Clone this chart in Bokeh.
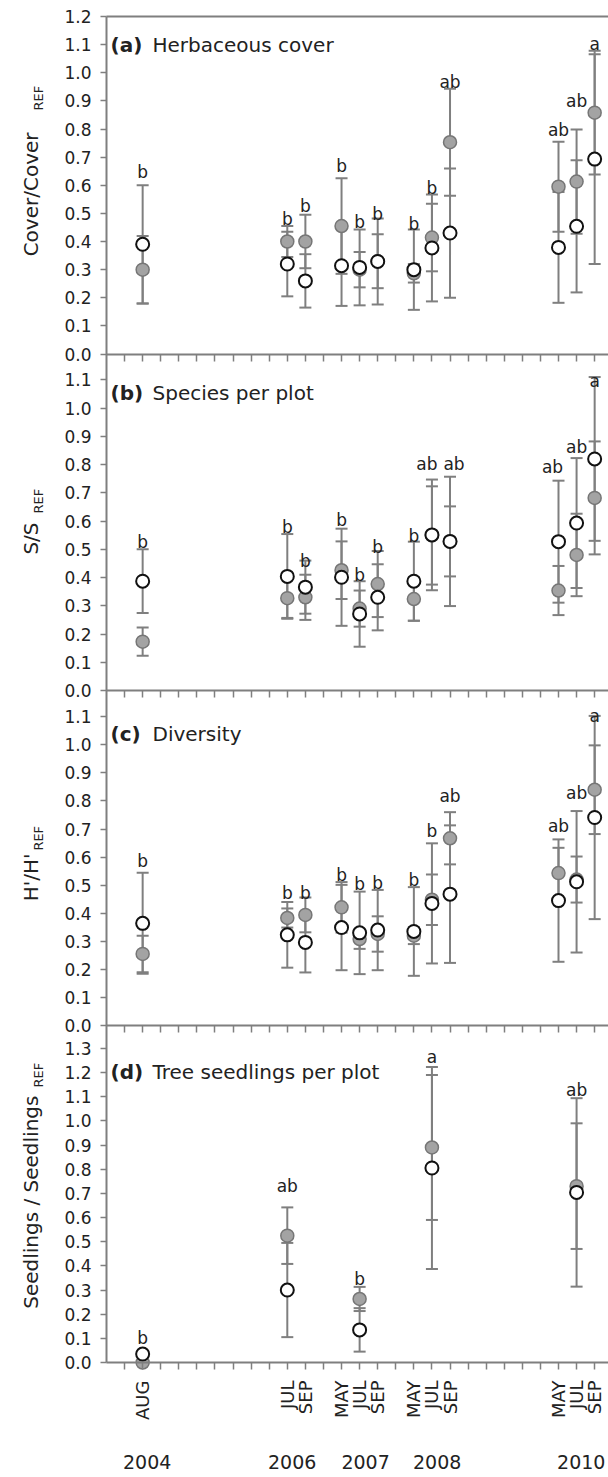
import math
from bokeh.plotting import figure
from bokeh.models import (Range1d, LinearAxis, FixedTicker, PrintfTickFormatter,
                          ColumnDataSource, Label)
from bokeh.embed import file_html
from bokeh.resources import INLINE
from bokeh.core.properties import value

# ---------------- data ----------------
sample_month = ["AUG", "JUL", "SEP", "MAY", "JUL", "SEP", "MAY", "JUL", "SEP", "MAY", "JUL", "SEP"]
sample_slot = [2, 10, 11, 13, 14, 15, 17, 18, 19, 25, 26, 27]   # slot on the compressed time axis
year_labels = ["2004", "2006", "2007", "2008", "2010"]

# (a) Herbaceous cover
a_gray = [0.30, 0.40, 0.40, 0.455, 0.30, 0.33, 0.287, 0.414, 0.753, 0.595, 0.613, 0.858]
a_gray_err = [0.12, 0.055, 0.095, 0.17, 0.063, 0.096, 0.033, 0.12, 0.19, 0.16, 0.185, 0.22]
a_open = [0.39, 0.32, 0.26, 0.314, 0.308, 0.329, 0.30, 0.377, 0.43, 0.379, 0.454, 0.693]
a_open_err = [0.21, 0.115, 0.095, 0.143, 0.135, 0.153, 0.143, 0.19, 0.23, 0.197, 0.235, 0.373]
a_letters = ["b", "b", "b", "b", "b", "b", "b", "b", "ab", "ab", "ab", "a"]
a_letter_y = [0.646, 0.48, 0.527, 0.667, 0.471, 0.498, 0.464, 0.59, 0.966, 0.797, 0.901, 1.103]

# (b) Species per plot
b_gray = [0.173, 0.327, 0.33, 0.426, 0.29, 0.377, 0.324, 0.549, 0.528, 0.354, 0.48, 0.682]
b_gray_err = [0.05, 0.07, 0.08, 0.102, 0.064, 0.117, 0.077, 0.174, 0.124, 0.087, 0.146, 0.2]
b_open = [0.387, 0.404, 0.366, 0.401, 0.271, 0.33, 0.387, 0.551, 0.528, 0.527, 0.593, 0.82]
b_open_err = [0.113, 0.15, 0.094, 0.172, 0.116, 0.117, 0.14, 0.196, 0.229, 0.216, 0.23, 0.29]
b_letters = ["b", "b", "b", "b", "b", "b", "b", "ab", "ab", "ab", "ab", "a"]
b_letter_y = [0.525, 0.58, 0.46, 0.604, 0.409, 0.507, 0.548, 0.802, 0.802, 0.793, 0.864, 1.097]

# (c) Diversity
c_gray = [0.255, 0.383, 0.394, 0.421, 0.308, 0.326, 0.32, 0.448, 0.667, 0.543, 0.52, 0.84]
c_gray_err = [0.065, 0.034, 0.062, 0.09, 0.035, 0.063, 0.03, 0.09, 0.093, 0.09, 0.082, 0.158]
c_open = [0.364, 0.323, 0.296, 0.349, 0.33, 0.34, 0.335, 0.435, 0.468, 0.445, 0.512, 0.741]
c_open_err = [0.18, 0.117, 0.107, 0.152, 0.147, 0.143, 0.158, 0.214, 0.245, 0.218, 0.252, 0.362]
c_letters = ["b", "b", "b", "b", "b", "b", "b", "b", "ab", "ab", "ab", "a"]
c_letter_y = [0.587, 0.472, 0.472, 0.536, 0.504, 0.506, 0.518, 0.692, 0.819, 0.709, 0.83, 1.104]

# (d) Tree seedlings per plot (sampled at five dates only)
d_slot = [2, 10, 14, 18, 26]
d_gray = [0.0, 0.525, 0.263, 0.89, 0.73]
d_gray_err = [0.0, 0.117, 0.05, 0.3, 0.26]
d_open = [0.035, 0.30, 0.135, 0.805, 0.704]
d_open_err = [0.0, 0.195, 0.09, 0.418, 0.39]
d_letters = ["b", "ab", "b", "a", "ab"]
d_letter_y = [0.10, 0.732, 0.346, 1.263, 1.128]

a_ticks = [i / 10 for i in range(13)]
b_ticks = [i / 10 for i in range(12)]
c_ticks = [i / 10 for i in range(12)]
d_ticks = [i / 10 for i in range(14)]

titles = {"a": ("(a)", "Herbaceous cover"), "b": ("(b)", "Species per plot"),
          "c": ("(c)", "Diversity"), "d": ("(d)", "Tree seedlings per plot")}
ylabels = {"a": ("Cover/Cover", "REF"), "b": ("S/S", "REF"),
           "c": ("H'/H'", "REF"), "d": ("Seedlings / Seedlings", "REF")}

# ---------------- layout / style ----------------
GRAY = "#7f7f7f"
TXT = "#222222"
FONT = "DejaVu Sans"
W, H = 608, 1477
PX_LEFT = 106.0          # x pixel of the panels' left edge (slot 0)
PX_SLOT = 18.08          # pixels per slot
PX_TOP = 16.0            # top edge of panel (a)
X_START = -PX_LEFT / PX_SLOT
X_END = (W - PX_LEFT) / PX_SLOT
# zero line (canvas px) and px per unit, per panel
panel_geom = {"a": (353.5, 281.25), "b": (690.0, 282.4), "c": (1025.0, 280.7), "d": (1362.0, 241.6)}
title_y = {"a": 1.097, "b": 1.055, "c": 1.037, "d": 1.204}
ylab_y = {"a": (0.7876, 0.866), "b": (0.595, 0.627), "c": (0.613, 0.623), "d": (1.105, 1.138)}
year_x = [2.25, 10.27, 14.33, 18.29, 26.26]
letter_dx = {"b": [0, 0, 0, 0, 0, 0, 0, -5, 4, -6, 0, 0]}
tick_slots = list(range(1, 28))


def prange(k):
    zero, ppu = panel_geom[k]
    return Range1d(-(H - zero) / ppu, zero / ppu)


def px_to_val(k, px):
    zero, ppu = panel_geom[k]
    return (zero - px) / ppu


p = figure(width=W, height=H, x_range=Range1d(X_START, X_END), y_range=prange("d"),
           output_backend="svg", toolbar_location=None,
           x_axis_location=None, y_axis_location=None,
           min_border_left=0, min_border_right=0, min_border_top=0, min_border_bottom=0)
p.extra_y_ranges = {k: prange(k) for k in "abcd"}
p.outline_line_color = None
p.grid.visible = False
p.background_fill_color = "white"
p.border_fill_color = "white"


def hline_axis(k, loc, side, tick_out):
    ax = LinearAxis(y_range_name=k, fixed_location=loc, ticker=FixedTicker(ticks=tick_slots),
                    bounds=(0, X_END),
                    major_tick_out=tick_out, major_tick_in=0, minor_tick_out=0, minor_tick_in=0,
                    major_label_text_color=None, axis_line_color=GRAY, axis_line_width=2,
                    major_tick_line_color=GRAY, major_tick_line_width=1.5)
    p.add_layout(ax, side)


hline_axis("a", px_to_val("a", PX_TOP), "above", 0)
for k in "abcd":
    hline_axis(k, 0, "below", 7)

yticks = {"a": a_ticks, "b": b_ticks, "c": c_ticks, "d": d_ticks}
for k in "abcd":
    ax = LinearAxis(y_range_name=k, fixed_location=0, ticker=FixedTicker(ticks=yticks[k]),
                    formatter=PrintfTickFormatter(format="%.1f"),
                    bounds=(0, px_to_val(k, PX_TOP)),
                    major_tick_out=6, major_tick_in=0, minor_tick_out=0, minor_tick_in=0,
                    major_label_standoff=9, major_label_text_font=FONT,
                    major_label_text_font_size="17px", major_label_text_color=TXT,
                    axis_line_color=GRAY if k == "d" else None, axis_line_width=2,
                    major_tick_line_color=GRAY, major_tick_line_width=1.5)
    p.add_layout(ax, "left")

# month labels and year labels under the last panel
month_ax = LinearAxis(y_range_name="d", fixed_location=0, ticker=FixedTicker(ticks=sample_slot),
                      major_label_overrides={s: m for s, m in zip(sample_slot, sample_month)},
                      major_label_orientation=math.pi / 2, major_tick_out=0, major_tick_in=0,
                      minor_tick_out=0, axis_line_color=None, major_label_standoff=18,
                      major_label_text_font=FONT, major_label_text_font_size="18px",
                      major_label_text_color=TXT)
p.add_layout(month_ax, "below")
year_ax = LinearAxis(y_range_name="d", fixed_location=0, ticker=FixedTicker(ticks=year_x),
                     major_label_overrides={x: y for x, y in zip(year_x, year_labels)},
                     major_tick_out=0, major_tick_in=0, minor_tick_out=0, axis_line_color=None,
                     major_label_standoff=92, major_label_text_font=FONT,
                     major_label_text_font_size="19px", major_label_text_color=TXT)
p.add_layout(year_ax, "below")

panels = [
    ("a", sample_slot, a_gray, a_gray_err, a_open, a_open_err, a_letters, a_letter_y),
    ("b", sample_slot, b_gray, b_gray_err, b_open, b_open_err, b_letters, b_letter_y),
    ("c", sample_slot, c_gray, c_gray_err, c_open, c_open_err, c_letters, c_letter_y),
    ("d", d_slot, d_gray, d_gray_err, d_open, d_open_err, d_letters, d_letter_y),
]

for k, xs, g, ge, o, oe, lets, ly in panels:
    src = ColumnDataSource(dict(
        x=xs, g=g, o=o,
        glo=[m - e for m, e in zip(g, ge)], ghi=[m + e for m, e in zip(g, ge)],
        olo=[m - e for m, e in zip(o, oe)], ohi=[m + e for m, e in zip(o, oe)]))
    for lo, hi in (("glo", "ghi"), ("olo", "ohi")):
        p.segment(x0="x", y0=lo, x1="x", y1=hi, source=src, y_range_name=k,
                  line_color=GRAY, line_width=2)
        for end in (lo, hi):
            p.scatter(x="x", y=end, source=src, y_range_name=k, marker="dash", size=12,
                      line_color=GRAY, line_width=2)
    p.scatter(x="x", y="g", source=src, y_range_name=k, marker="circle", size=13,
              fill_color="#a3a3a3", line_color="#767676", line_width=1.5)
    p.scatter(x="x", y="o", source=src, y_range_name=k, marker="circle", size=13,
              fill_color="white", line_color="#111111", line_width=2)
    lsrc = ColumnDataSource(dict(x=xs, y=ly, t=lets,
                                 dx=letter_dx.get(k, [0] * len(xs))))
    p.text(x="x", y="y", text="t", source=lsrc, y_range_name=k, x_offset="dx",
           text_align="center", text_baseline="alphabetic", text_font=value(FONT),
           text_font_size="17px", text_color=TXT)

    # panel title
    tb, tr = titles[k]
    p.add_layout(Label(x=0, y=title_y[k], y_range_name=k, x_offset=4, text=tb,
                       text_font=FONT, text_font_size="20px", text_font_style="bold",
                       text_color=TXT, text_align="left", text_baseline="alphabetic"))
    p.add_layout(Label(x=0, y=title_y[k], y_range_name=k, x_offset=46, text=tr,
                       text_font=FONT, text_font_size="20px",
                       text_color=TXT, text_align="left", text_baseline="alphabetic"))
    # y-axis title with subscript
    main, sub = ylabels[k]
    ym, ys = ylab_y[k]
    p.add_layout(Label(x=0, y=ym, y_range_name=k, x_offset=-76, text=main, angle=math.pi / 2,
                       text_font=FONT, text_font_size="20px", text_color=TXT,
                       text_align="right", text_baseline="alphabetic"))
    p.add_layout(Label(x=0, y=ys, y_range_name=k, x_offset=-68, text=sub, angle=math.pi / 2,
                       text_font=FONT, text_font_size="13px", text_color=TXT,
                       text_align="left", text_baseline="alphabetic"))

open("out.html", "w").write(file_html(p, INLINE))
